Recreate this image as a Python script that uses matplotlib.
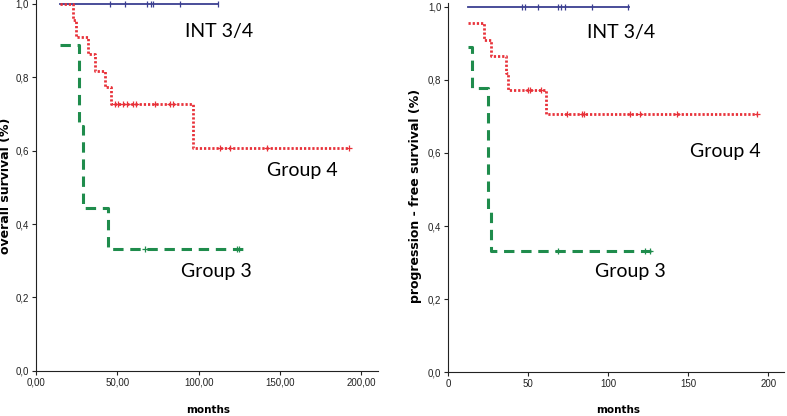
import matplotlib
matplotlib.use("Agg")
import matplotlib.pyplot as plt

# ---- data ----
# Left panel: overall survival
os_int_t = [15, 112]
os_int_s = [1.0, 1.0]
os_int_cens_t = [45.5, 55, 68, 70.5, 72, 88.5, 112]

os_g4_t = [15, 22.5, 24.5, 32.2, 36.3, 42.4, 46, 96.7, 192.6]
os_g4_s = [1.0, 0.955, 0.909, 0.864, 0.818, 0.773, 0.727, 0.606, 0.606]
os_g4_cens_t = [48.6, 50.6, 53.7, 55.7, 59.8, 61.3, 73.1, 82.4, 84.4,
                113, 119.2, 141.8, 192.6]

os_g3_t = [15, 26.4, 29, 44, 127]
os_g3_s = [0.889, 0.667, 0.444, 0.333, 0.333]
os_g3_cens_t = [67, 123.3, 125]

# Right panel: progression-free survival
pfs_int_t = [12.5, 113]
pfs_int_s = [1.0, 1.0]
pfs_int_cens_t = [45.9, 48, 55.9, 68.4, 70.4, 72.9, 89.6, 112.5]

pfs_g4_t = [12.5, 22.3, 26.5, 36, 37.5, 61, 192.7]
pfs_g4_s = [0.955, 0.909, 0.864, 0.818, 0.773, 0.706, 0.706]
pfs_g4_cens_t = [49.6, 51, 58, 74, 83.4, 85, 113.6, 119.8, 142.7, 192.7]

pfs_g3_t = [12.5, 14.6, 24.6, 26.5, 128]
pfs_g3_s = [0.889, 0.778, 0.444, 0.333, 0.333]
pfs_g3_cens_t = [68.8, 123, 126]

left_xticks = [0, 50, 100, 150, 200]
left_xticklabels = ["0,00", "50,00", "100,00", "150,00", "200,00"]
right_xticks = [0, 50, 100, 150, 200]
right_xticklabels = ["0", "50", "100", "150", "200"]
yticks = [0.0, 0.2, 0.4, 0.6, 0.8, 1.0]
yticklabels = ["0,0", "0,2", "0,4", "0,6", "0,8", "1,0"]

BLUE = "#3b3f91"
RED = "#e8323a"
GREEN = "#1f8c4c"

tick_font = ["Liberation Sans Narrow", "Liberation Sans", "DejaVu Sans"]
label_font = ["DejaVu Sans"]
anno_font = ["Lato", "DejaVu Sans"]

fig = plt.figure(figsize=(7.87, 4.16), dpi=100)
axL = fig.add_axes([0.04574, 0.1089, 0.4342, 0.8904])
axR = fig.add_axes([0.5696, 0.105, 0.4269, 0.8877])


def level_at(t_list, s_list, t):
    val = s_list[0]
    for ti, si in zip(t_list, s_list):
        if ti <= t:
            val = si
    return val


def draw(ax, int_t, int_s, int_c, g4_t, g4_s, g4_c, g3_t, g3_s, g3_c):
    ax.step(int_t, int_s, where="post", color=BLUE, lw=1.3)
    ax.plot(int_c, [level_at(int_t, int_s, c) for c in int_c], ls="none",
            marker="|", ms=4, mew=0.9, color=BLUE)
    ax.step(g4_t, g4_s, where="post", color=RED, lw=2.0,
            linestyle=(0, (0.8, 0.7)))
    ax.plot(g4_c, [level_at(g4_t, g4_s, c) for c in g4_c], ls="none",
            marker="+", ms=5, mew=0.9, color=RED)
    ax.step(g3_t, g3_s, where="post", color=GREEN, lw=2.2,
            linestyle=(0, (3.4, 2.2)))
    ax.plot(g3_c, [level_at(g3_t, g3_s, c) for c in g3_c], ls="none",
            marker="+", ms=5, mew=0.9, color=GREEN)
    ax.set_ylim(0, 1.01)
    ax.set_xlim(0, 210)
    ax.spines["top"].set_visible(False)
    ax.spines["right"].set_visible(False)
    ax.spines["left"].set_color("#222222")
    ax.spines["bottom"].set_color("#222222")
    ax.set_yticks(yticks)
    ax.set_yticklabels(yticklabels, family=tick_font, fontsize=7, color="#222222")
    ax.tick_params(length=3, width=0.8, pad=2, colors="#222222")


draw(axL, os_int_t, os_int_s, os_int_cens_t, os_g4_t, os_g4_s, os_g4_cens_t,
     os_g3_t, os_g3_s, os_g3_cens_t)
draw(axR, pfs_int_t, pfs_int_s, pfs_int_cens_t, pfs_g4_t, pfs_g4_s, pfs_g4_cens_t,
     pfs_g3_t, pfs_g3_s, pfs_g3_cens_t)

axL.set_xticks(left_xticks)
axL.set_xticklabels(left_xticklabels, family=tick_font, fontsize=7)
axR.set_xticks(right_xticks)
axR.set_xticklabels(right_xticklabels, family=tick_font, fontsize=7)

W, H = 787.0, 416.0
fig.text(208 / W, 1 - 410 / H, "months", family=label_font, fontsize=7.5,
         fontweight="bold", ha="center", va="center")
fig.text(618.5 / W, 1 - 410 / H, "months", family=label_font, fontsize=7.5,
         fontweight="bold", ha="center", va="center")
fig.text(6 / W, 1 - 186 / H, "overall survival (%)", family=label_font, fontsize=9,
         fontweight="bold", rotation=90, ha="center", va="center")
fig.text(416 / W, 1 - 196 / H, "progression - free survival (%)", family=label_font,
         fontsize=9, fontweight="bold", rotation=90, ha="center", va="center")

# annotations (placed in data coordinates)
axL.text(112.5, 0.924, "INT 3/4", family=anno_font, fontsize=14, ha="center", va="center")
axL.text(163.8, 0.547, "Group 4", family=anno_font, fontsize=14, ha="center", va="center")
axL.text(110.6, 0.27, "Group 3", family=anno_font, fontsize=14, ha="center", va="center")

axR.text(108, 0.93, "INT 3/4", family=anno_font, fontsize=14, ha="center", va="center")
axR.text(173.3, 0.603, "Group 4", family=anno_font, fontsize=14, ha="center", va="center")
axR.text(113.6, 0.275, "Group 3", family=anno_font, fontsize=14, ha="center", va="center")

fig.savefig("out.png", dpi=100)
